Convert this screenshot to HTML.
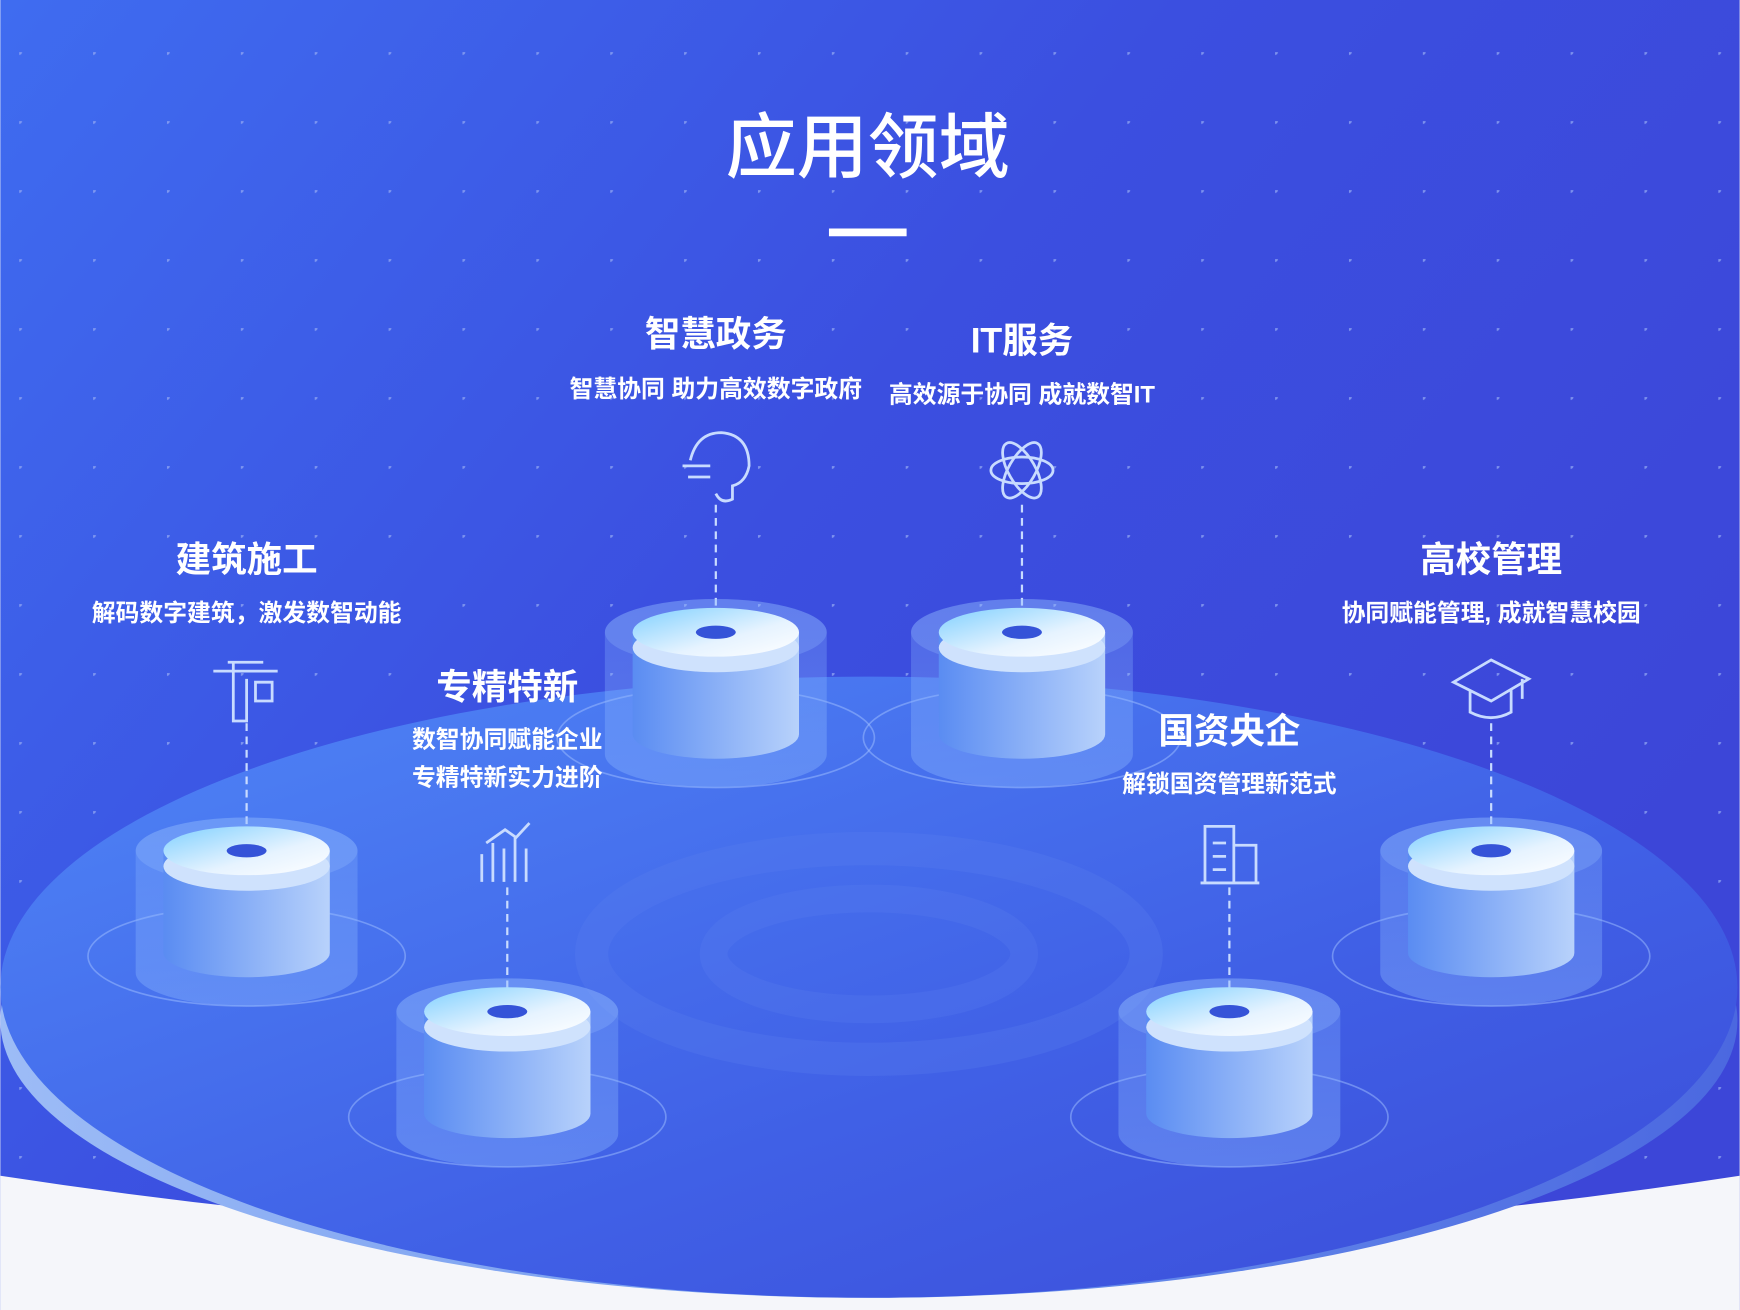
<!DOCTYPE html>
<html><head><meta charset="utf-8"><style>
html,body{margin:0;padding:0;width:1740px;height:1310px;overflow:hidden;background:#f5f6fa}
svg{display:block}
text{font-family:"Liberation Sans","Noto Sans CJK SC",sans-serif;fill:#fff;font-weight:bold;text-anchor:middle}
</style></head><body>
<svg width="1740" height="1310" viewBox="0 0 1568 1181" xmlns="http://www.w3.org/2000/svg">
<defs>
<linearGradient id="bg" x1="0" y1="0" x2="1" y2="0.6">
<stop offset="0" stop-color="#3f6cf0"/><stop offset="0.5" stop-color="#3b4fe0"/><stop offset="1" stop-color="#3c46d8"/>
</linearGradient>
<linearGradient id="plat" x1="0" y1="0" x2="1" y2="1">
<stop offset="0" stop-color="#4f86f7"/><stop offset="0.6" stop-color="#4060e6"/><stop offset="1" stop-color="#3b4cd8"/>
</linearGradient>
<linearGradient id="platEdge" x1="0" y1="0" x2="1" y2="0">
<stop offset="0" stop-color="#9dbcf6"/><stop offset="0.5" stop-color="#6d95ee"/><stop offset="1" stop-color="#4b68e0"/>
</linearGradient>
<linearGradient id="cylTop" x1="0" y1="0" x2="1" y2="1">
<stop offset="0" stop-color="#7fd0ff"/><stop offset="0.6" stop-color="#e6f3ff"/><stop offset="1" stop-color="#ffffff"/>
</linearGradient>
<linearGradient id="cylSide" x1="0" y1="0" x2="1" y2="0">
<stop offset="0" stop-color="#5a8cf2"/><stop offset="1" stop-color="#b8d2fb"/>
</linearGradient>
<linearGradient id="glow" x1="0" y1="0" x2="0" y2="1">
<stop offset="0" stop-color="#8ab6ff" stop-opacity="0.25"/><stop offset="1" stop-color="#8ab6ff" stop-opacity="0.4"/>
</linearGradient>
<pattern id="dots" x="17" y="47" width="66.6" height="62.2" patternUnits="userSpaceOnUse">
<circle cx="0" cy="0" r="2.6" fill="#93a8f3" opacity="0.75"/>
</pattern>
<g id="cyl">
<ellipse cx="0" cy="95" rx="143" ry="45" fill="none" stroke="#9fc0ff" stroke-opacity="0.5" stroke-width="1.5"/>
<path d="M-100,0 L-100,110 A100,30 0 0 0 100,110 L100,0 A100,30 0 0 0 -100,0 Z" fill="url(#glow)"/>
<ellipse cx="0" cy="0" rx="100" ry="30" fill="#9cc4ff" opacity="0.25"/>
<path d="M-75,0 L-75,92 A75,22 0 0 0 75,92 L75,0 Z" fill="url(#cylSide)"/>
<ellipse cx="0" cy="14" rx="75" ry="22" fill="#cfe2fd"/>
<ellipse cx="0" cy="0" rx="75" ry="22" fill="url(#cylTop)"/>
<ellipse cx="0" cy="0" rx="18" ry="6" fill="#3553d8"/>
</g>
</defs>
<rect width="1568" height="1181" fill="url(#bg)"/>
<rect width="1568" height="1181" fill="url(#dots)"/>
<path d="M0,1060 Q784,1180 1568,1060 L1568,1181 L0,1181 Z" fill="#f5f6fa"/>
<ellipse cx="783" cy="920" rx="783" ry="250" fill="url(#platEdge)"/>
<ellipse cx="783" cy="890" rx="783" ry="280" fill="url(#plat)"/>
<ellipse cx="783" cy="860" rx="250" ry="95" fill="none" stroke="#5a7ef0" stroke-opacity="0.3" stroke-width="30"/>
<ellipse cx="783" cy="860" rx="140" ry="50" fill="none" stroke="#5a7ef0" stroke-opacity="0.25" stroke-width="25"/>

<text x="782" y="155" font-size="64" style="font-weight:500">应用领域</text>
<rect x="747" y="206" width="70" height="7" fill="#fff"/>

<g stroke="#c8dbff" stroke-width="2" stroke-dasharray="7,5">
<line x1="645" y1="455" x2="645" y2="570"/><line x1="921" y1="455" x2="921" y2="570"/>
<line x1="222" y1="652" x2="222" y2="767"/><line x1="457" y1="800" x2="457" y2="912"/>
<line x1="1108" y1="800" x2="1108" y2="912"/><line x1="1344" y1="652" x2="1344" y2="767"/>
</g>
<use href="#cyl" x="645" y="570"/><use href="#cyl" x="921" y="570"/>
<use href="#cyl" x="222" y="767"/><use href="#cyl" x="1344" y="767"/>
<use href="#cyl" x="457" y="912"/><use href="#cyl" x="1108" y="912"/>

<g fill="none" stroke="#c8dbff" stroke-width="2.5">
<path d="M622,415 Q628,390 650,390 Q675,392 675,420 Q672,435 660,438 L660,450 Q650,455 645,445 M615,420 L640,420 M620,430 L640,430"/>
<ellipse cx="921" cy="424" rx="28" ry="12"/><ellipse cx="921" cy="424" rx="28" ry="12" transform="rotate(60 921 424)"/><ellipse cx="921" cy="424" rx="28" ry="12" transform="rotate(-60 921 424)"/>
<path d="M192,605 L250,605 M205,597 L237,597 M210,597 L210,650 L222,650 L222,612 M230,615 L245,615 L245,632 L230,632 Z"/>
<path d="M434,795 L434,770 M444,795 L444,760 M454,795 L454,765 M464,795 L464,755 M474,795 L474,765 M438,760 L455,748 L465,755 L477,742"/>
<path d="M1082,796 L1135,796 M1086,796 L1086,745 L1112,745 L1112,796 M1112,762 L1132,762 L1132,796 M1093,760 L1105,760 M1093,772 L1105,772 M1093,784 L1105,784"/>
<path d="M1310,615 L1344,595 L1378,612 L1344,632 Z M1325,622 L1325,642 Q1344,652 1362,642 L1362,622 M1372,612 L1372,630"/>
</g>

<text x="645" y="312" font-size="32">智慧政务</text>
<text x="645" y="358" font-size="21.5">智慧协同 助力高效数字政府</text>
<text x="921" y="318" font-size="32">IT服务</text>
<text x="921" y="363" font-size="21.5">高效源于协同 成就数智IT</text>
<text x="222" y="515" font-size="32">建筑施工</text>
<text x="222" y="560" font-size="21.5">解码数字建筑，激发数智动能</text>
<text x="457" y="630" font-size="32">专精特新</text>
<text x="457" y="674" font-size="21.5">数智协同赋能企业</text>
<text x="457" y="708" font-size="21.5">专精特新实力进阶</text>
<text x="1108" y="670" font-size="32">国资央企</text>
<text x="1108" y="714" font-size="21.5">解锁国资管理新范式</text>
<text x="1344" y="515" font-size="32">高校管理</text>
<text x="1344" y="560" font-size="21.5">协同赋能管理, 成就智慧校园</text>
</svg>
</body></html>
